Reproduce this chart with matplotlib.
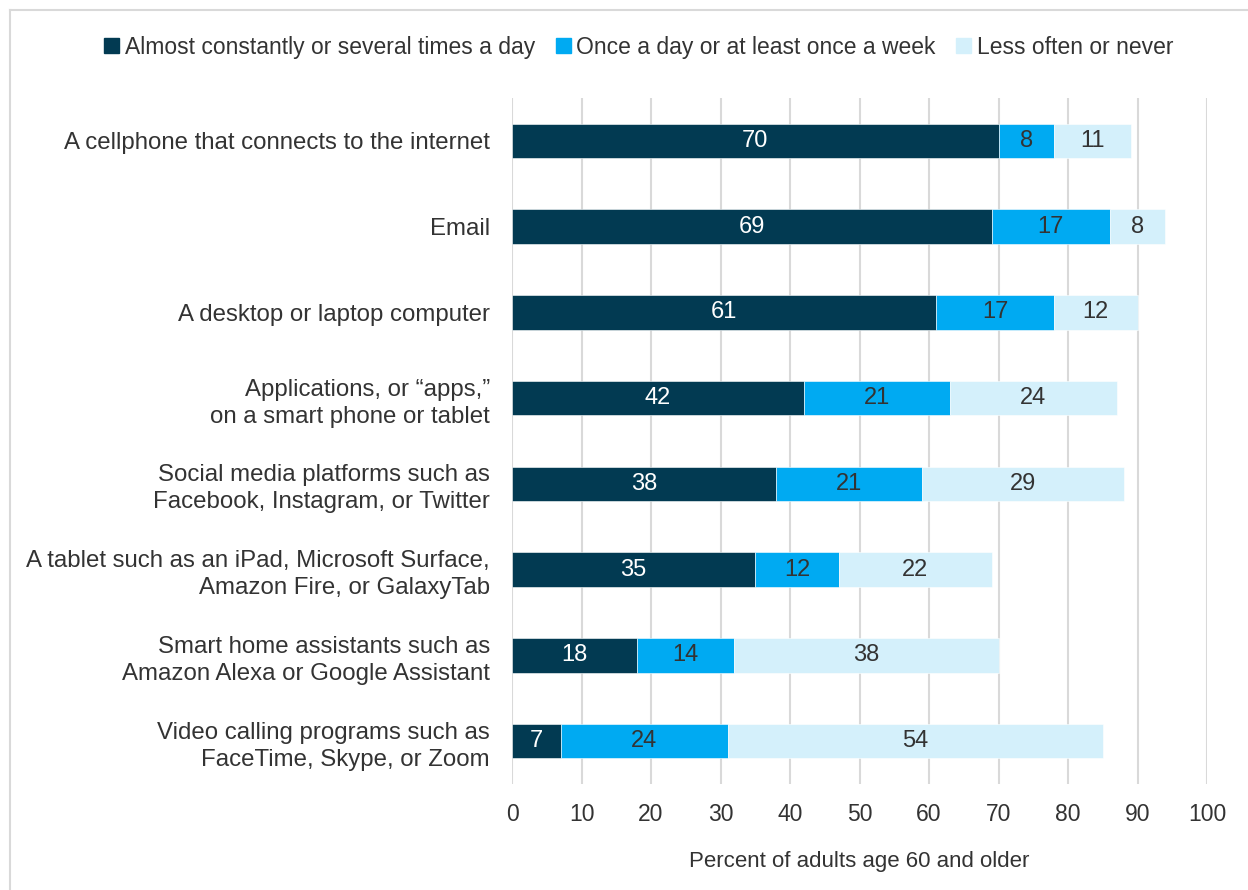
import matplotlib.pyplot as plt
from matplotlib.patches import Rectangle
from matplotlib.lines import Line2D

plt.rcParams['font.family'] = ['Liberation Sans', 'DejaVu Sans']

categories = [
    "A cellphone that connects to the internet",
    "Email",
    "A desktop or laptop computer",
    "Applications, or \u201capps,\u201d\non a smart phone or tablet",
    "Social media platforms such as\nFacebook, Instagram, or Twitter",
    "A tablet such as an iPad, Microsoft Surface,\nAmazon Fire, or GalaxyTab",
    "Smart home assistants such as\nAmazon Alexa or Google Assistant",
    "Video calling programs such as\nFaceTime, Skype, or Zoom",
]
often = [70, 69, 61, 42, 38, 35, 18, 7]
weekly = [8, 17, 17, 21, 21, 12, 14, 24]
rarely = [11, 8, 12, 24, 29, 22, 38, 54]

series_names = [
    "Almost constantly or several times a day",
    "Once a day or at least once a week",
    "Less often or never",
]
colors = ["#023a52", "#00aaf2", "#d4f0fb"]
label_colors = ["white", "#333333", "#333333"]
xticks = [0, 10, 20, 30, 40, 50, 60, 70, 80, 90, 100]
xlabel = "Percent of adults age 60 and older"

fig = plt.figure(figsize=(12.48, 8.9), dpi=100)
ax = fig.add_axes([0.4103, 0.1191, 0.5569, 0.7708])

# light frame around the whole figure
fig.add_artist(Line2D([10/1248, 1.0], [1 - 10/890, 1 - 10/890], transform=fig.transFigure,
                      color="#d9d9d9", lw=1.5))
fig.add_artist(Line2D([10/1248, 10/1248], [0.0, 1 - 10/890], transform=fig.transFigure,
                      color="#d9d9d9", lw=1.5))

y = list(range(len(categories)))
left = [0] * len(categories)
for vals, col, lc in zip([often, weekly, rarely], colors, label_colors):
    bars = ax.barh(y, vals, left=left, height=0.4, color=col, edgecolor="white",
                   linewidth=0.4, zorder=3)
    for b, v in zip(bars, vals):
        ax.text(b.get_x() + b.get_width() / 2, b.get_y() + b.get_height() / 2, str(v),
                ha="center", va="center", color=lc, fontsize=17, zorder=4)
    left = [l + v for l, v in zip(left, vals)]

ax.set_xlim(0, 100)
ax.set_ylim(len(categories) - 0.5, -0.5)
ax.set_xticks(xticks)
ax.set_xticklabels([str(t) for t in xticks], fontsize=16.5, color="#333333")
ax.set_yticks(y)
ax.set_yticklabels(categories, fontsize=17.3, color="#333333", linespacing=1.3)
ax.tick_params(axis="both", length=0)
ax.tick_params(axis="x", pad=14)
ax.tick_params(axis="y", pad=16)
ax.xaxis.grid(True, color="#d9d9d9", linewidth=1.5, zorder=0)
ax.set_axisbelow(True)
for s in ax.spines.values():
    s.set_visible(False)
ax.set_xlabel(xlabel, fontsize=16, color="#333333", labelpad=18)

handles = [Rectangle((0, 0), 1, 1, color=c) for c in colors]
fig.legend(handles, series_names, loc="center", bbox_to_anchor=(0.512, 0.947), ncol=3,
           frameon=False, fontsize=16.5, handlelength=0.65, handleheight=0.65,
           handletextpad=0.25, columnspacing=0.9, labelcolor="#333333")

fig.savefig("out.png", dpi=100, facecolor="white")
